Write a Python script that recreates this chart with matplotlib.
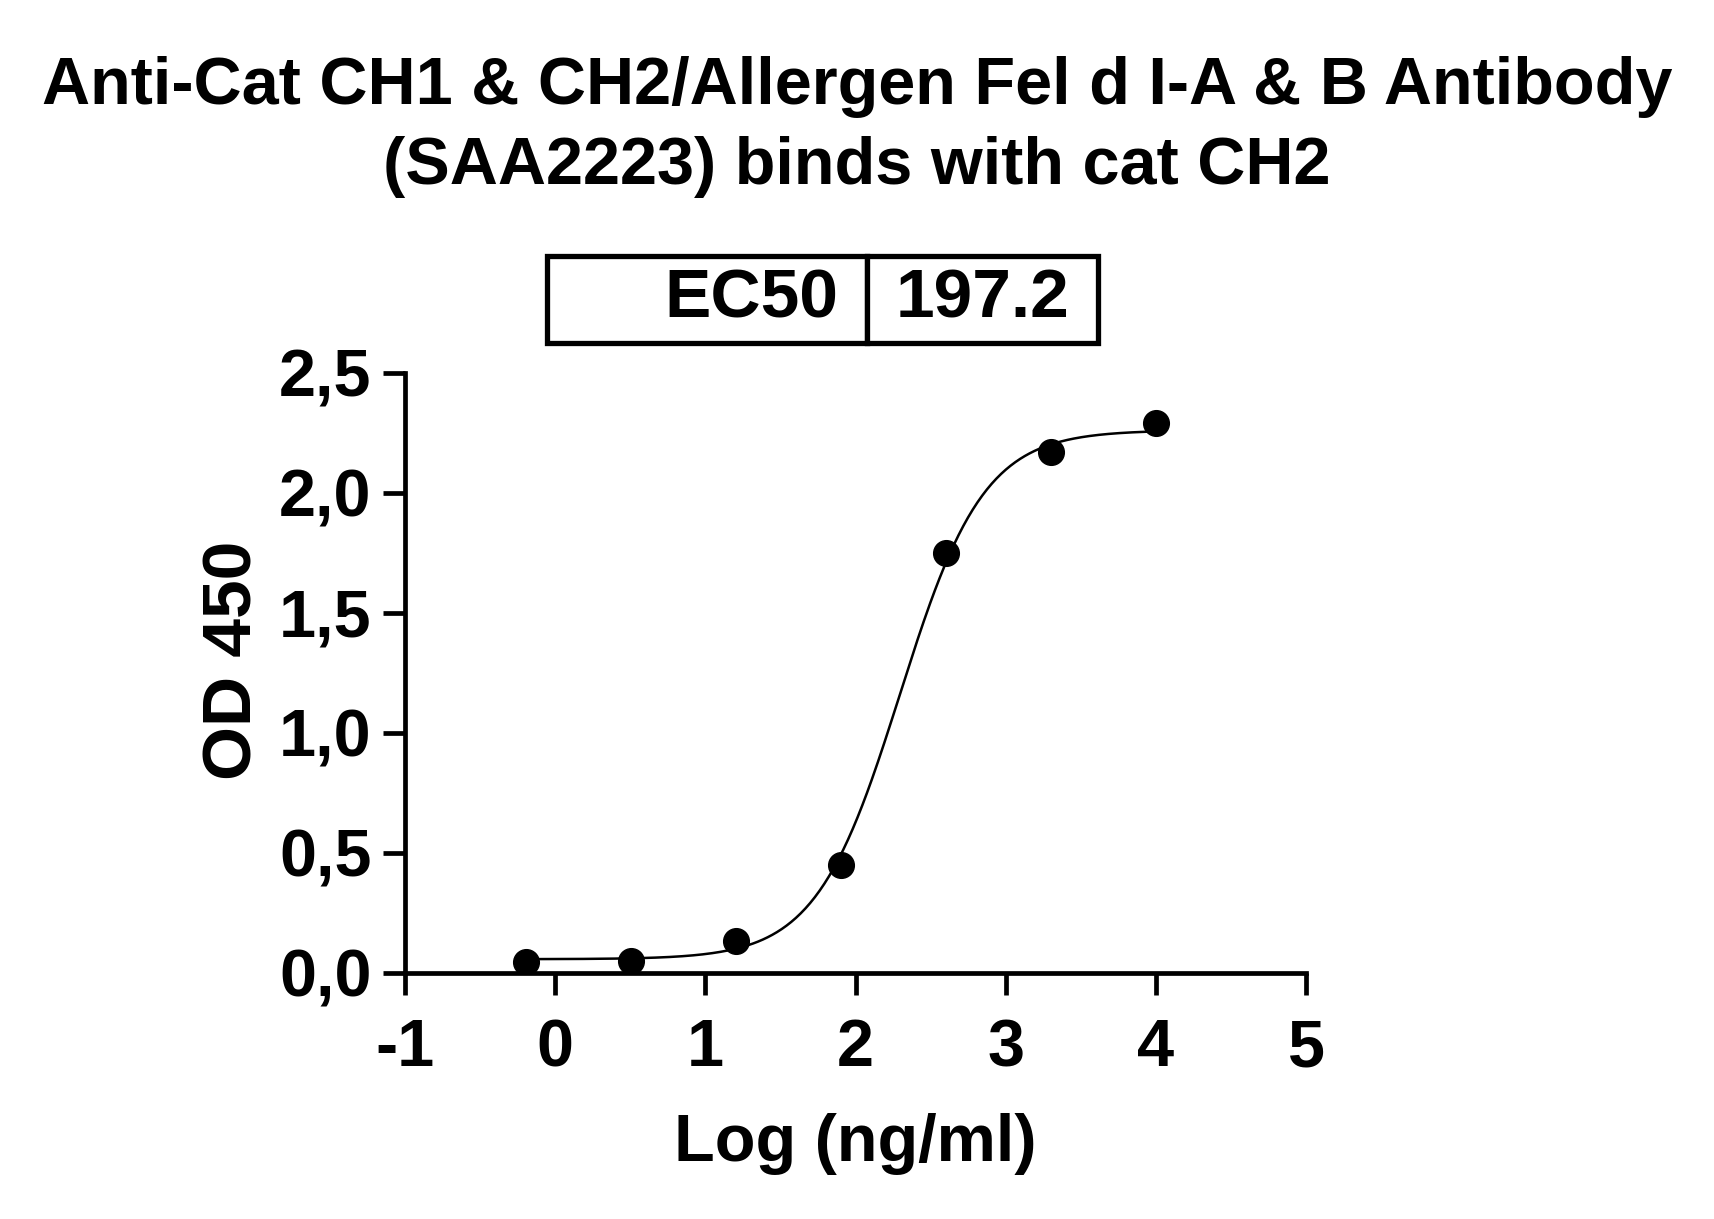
import numpy as np
import matplotlib
matplotlib.use("Agg")
import matplotlib.pyplot as plt

plt.rcParams['font.family'] = ['Liberation Sans', 'DejaVu Sans']
plt.rcParams['font.weight'] = 'bold'
plt.rcParams['axes.unicode_minus'] = False

# данные
log_conc = [-0.194, 0.505, 1.204, 1.903, 2.602, 3.301, 4.0]
od450 = [0.043, 0.049, 0.133, 0.450, 1.749, 2.170, 2.290]

# параметры 4PL аппроксимации
ec50 = 197.2
bottom = 0.056
top = 2.26
hill = 1.55

xticks = [-1, 0, 1, 2, 3, 4, 5]
yticks = [0.0, 0.5, 1.0, 1.5, 2.0, 2.5]
ytick_labels = ["0,0", "0,5", "1,0", "1,5", "2,0", "2,5"]

title = "Anti-Cat CH1 & CH2/Allergen Fel d I-A & B Antibody\n(SAA2223) binds with cat CH2"

fig = plt.figure(figsize=(17.14, 12.19), dpi=100)
ax = fig.add_axes([405 / 1714, 0.2021, 901 / 1714, 0.4922])

# кривая
xf = np.linspace(log_conc[0], log_conc[-1], 400)
yf = bottom + (top - bottom) / (1 + 10 ** ((np.log10(ec50) - xf) * hill))
ax.plot(xf, yf, color='black', lw=1.8)
ax.plot(log_conc, od450, 'o', color='black', ms=18.5)

ax.set_xlim(-1, 5)
ax.set_ylim(0, 2.5)
ax.set_xticks(xticks)
ax.set_yticks(yticks)
ax.set_yticklabels(ytick_labels)
ax.spines['top'].set_visible(False)
ax.spines['right'].set_visible(False)
ax.spines['left'].set_linewidth(3.4)
ax.spines['bottom'].set_linewidth(3.4)
ax.tick_params(axis='both', length=16, width=3.4, labelsize=48)
ax.tick_params(axis='y', pad=8)
ax.tick_params(axis='x', pad=17)
for lab in ax.get_xticklabels() + ax.get_yticklabels():
    lab.set_fontweight('bold')

ax.set_xlabel("Log (ng/ml)", fontsize=48, fontweight='bold')
ax.set_ylabel("OD 450", fontsize=50, fontweight='bold')
ax.xaxis.set_label_coords(0.5, -0.234)
ax.yaxis.set_label_coords(-0.155, 0.521)

# табличка EC50
tab = ax.table(cellText=[["EC50", str(ec50)]], colWidths=[320, 231],
               bbox=[(547 - 405) / 901, (972.7 - 343) / 600, 551 / 901, 87 / 600])
tab.auto_set_font_size(False)
tab.set_fontsize(50)
for (r, c), cell in tab.get_celld().items():
    cell.set_linewidth(3.8)
    cell.get_text().set_fontweight('bold')
    cell.set_text_props(ha='right' if c == 0 else 'center')
tab[0, 0].PAD = 0.09

fig.text(0.5, 1 - 56 / 1219, title, ha='center', va='top', fontsize=48,
         fontweight='bold', linespacing=1.38)

plt.savefig("out.png", dpi=100)
